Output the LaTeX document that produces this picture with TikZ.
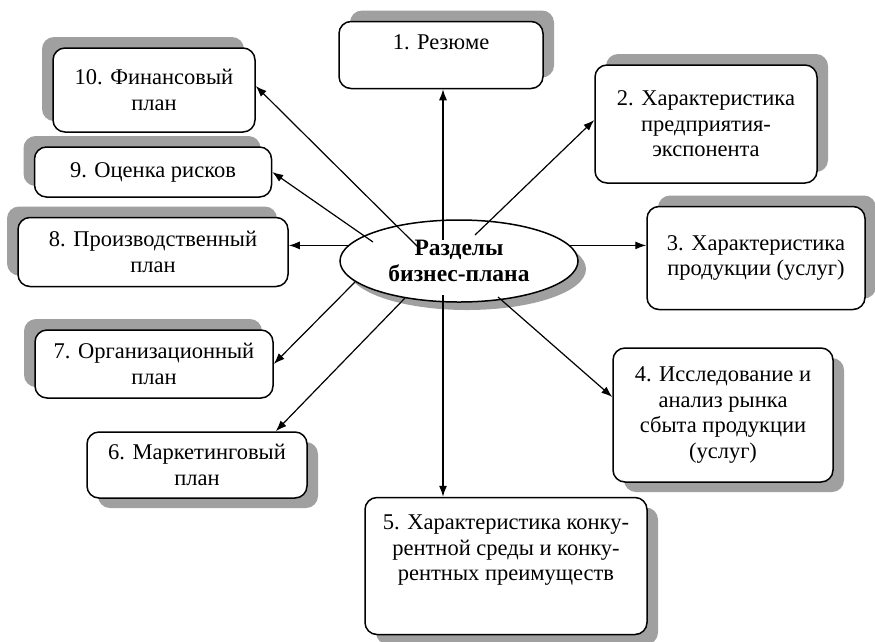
\documentclass[tikz,border=0pt]{standalone}
\usepackage{fontspec}
\setmainfont{Liberation Serif}
\usetikzlibrary{shapes.geometric, arrows.meta, positioning, calc, shadows}
\definecolor{shadowgray}{RGB}{160,160,160}

\tikzset{
  razdel/.style={draw, line width=1.5pt, fill=white, rounded corners=12pt, align=center,
    font=\fontsize{22.5}{25.5}\selectfont, inner sep=2pt},
  shadowUR/.style={drop shadow={shadow xshift=11pt, shadow yshift=11pt, fill=shadowgray, opacity=1}},
  shadowUL/.style={drop shadow={shadow xshift=-11pt, shadow yshift=11pt, fill=shadowgray, opacity=1}},
  shadowDR/.style={drop shadow={shadow xshift=11pt, shadow yshift=-10pt, fill=shadowgray, opacity=1}},
  strelka/.style={line width=1.2pt, -{Latex[length=11pt,width=8pt]}}
}

\begin{document}
\begin{tikzpicture}[x=1pt, y=-1pt]
  \useasboundingbox (0,0) rectangle (875,641);

  % Center
  \node[ellipse, draw, line width=1.5pt, fill=white, minimum width=238, minimum height=82,
    inner sep=0pt, align=center, font=\fontsize{23.5}{26}\selectfont\bfseries,
    drop shadow={shadow xshift=8pt, shadow yshift=-8pt, fill=shadowgray, opacity=1}]
    (el) at (459,261) {Разделы\\бизнес-плана};

  % Right side
  \node[razdel, shadowUR, minimum width=204, minimum height=67] (b1) at (441,55) {1. Резюме\\\mbox{}};
  \node[razdel, shadowUR, minimum width=222, minimum height=118] (b2) at (706,124) {2. Характеристика\\предприятия-\\экспонента};
  \node[razdel, shadowUR, minimum width=218, minimum height=103] (b3) at (756,258) {3. Характеристика\\продукции (услуг)};
  \node[razdel, shadowDR, minimum width=220, minimum height=134] (b4) at (723,415) {4. Исследование и\\анализ рынка\\сбыта продукции\\(услуг)};
  \node[razdel, shadowDR, minimum width=282, minimum height=137] (b5) at (506,566) {5. Характеристика конку-\\рентной среды и конку-\\рентных преимуществ\\[11pt]\mbox{}};

  % Left side
  \node[razdel, shadowDR, minimum width=220, minimum height=66] (b6) at (197,465) {6. Маркетинговый\\план};
  \node[razdel, shadowUL, minimum width=238, minimum height=68] (b7) at (154,364) {7. Организационный\\план};
  \node[razdel, shadowUL, minimum width=270, minimum height=69] (b8) at (153,252) {8. Производственный\\план};
  \node[razdel, shadowUL, minimum width=237, minimum height=50] (b9) at (153,172) {9. Оценка рисков};
  \node[razdel, shadowUL, minimum width=202, minimum height=84] (b10) at (154,90) {10. Финансовый\\план};

  % Start points on the ellipse
  \coordinate (c1) at ($(el.center)+(-16,-21)$);
  \coordinate (c2) at ($(el.center)+(16,-26)$);
  \coordinate (c4) at ($(el.center)+(39,36)$);
  \coordinate (c5) at ($(el.center)+(-16,34)$);
  \coordinate (c6) at ($(el.center)+(-54,37)$);
  \coordinate (c7) at ($(el.center)+(-104,21)$);
  \coordinate (c9) at ($(el.center)+(-86,-19)$);
  \coordinate (c10) at ($(el.center)+(-41,-14)$);

  % Arrows
  \draw[strelka] (c1) -- (c1 |- b1.south);
  \draw[strelka] (c2) -- ([yshift=4pt]b2.west);
  \draw[strelka] (el.8) -- (el.8 -| b3.west);
  \draw[strelka] (c4) -- ([yshift=18pt]b4.west);
  \draw[strelka] (c5) -- (c5 |- b5.north);
  \draw[strelka] (c6) -- ([xshift=-32pt]b6.north east);
  \draw[strelka] (c7) -- (b7.east);
  \draw[strelka] (el.172) -- (el.172 -| b8.east);
  \draw[strelka] (c9) -- (b9.east);
  \draw[strelka] (c10) -- ([yshift=4pt]b10.east);
\end{tikzpicture}
\end{document}
